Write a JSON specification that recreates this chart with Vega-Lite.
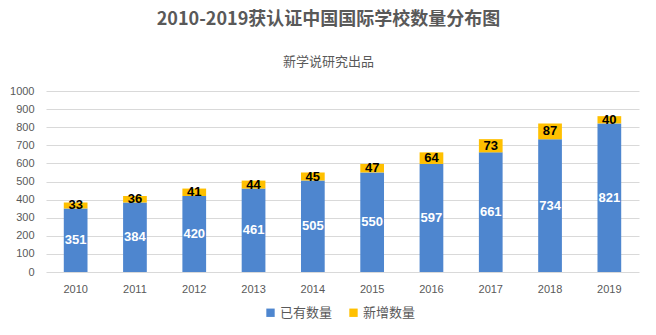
{
  "$schema": "https://vega.github.io/schema/vega-lite/v6.json",
  "width": 593,
  "height": 181,
  "autosize": "none",
  "padding": {"left": 46, "top": 91, "right": 17, "bottom": 63},
  "background": "white",
  "config": {
    "font": "Noto Sans CJK SC",
    "view": {"stroke": null},
    "axisY": {
      "labelOverlap": false,
      "domain": false,
      "ticks": false,
      "labelPadding": 12,
      "labelFontSize": 11,
      "labelColor": "#595959",
      "labelFont": "Liberation Sans",
      "gridColor": "#D9D9D9",
      "gridWidth": 1
    }
  },
  "title": {
    "text": "2010-2019获认证中国国际学校数量分布图",
    "subtitle": "新学说研究出品",
    "anchor": "middle",
    "dx": -14,
    "fontSize": 18,
    "fontWeight": "bold",
    "color": "#595959",
    "subtitleFontSize": 13,
    "subtitleColor": "#595959",
    "subtitlePadding": 27,
    "offset": 16
  },
  "data": {
    "values": [
      {"year": "2010", "type": "已有数量", "value": 351},
      {"year": "2010", "type": "新增数量", "value": 33},
      {"year": "2011", "type": "已有数量", "value": 384},
      {"year": "2011", "type": "新增数量", "value": 36},
      {"year": "2012", "type": "已有数量", "value": 420},
      {"year": "2012", "type": "新增数量", "value": 41},
      {"year": "2013", "type": "已有数量", "value": 461},
      {"year": "2013", "type": "新增数量", "value": 44},
      {"year": "2014", "type": "已有数量", "value": 505},
      {"year": "2014", "type": "新增数量", "value": 45},
      {"year": "2015", "type": "已有数量", "value": 550},
      {"year": "2015", "type": "新增数量", "value": 47},
      {"year": "2016", "type": "已有数量", "value": 597},
      {"year": "2016", "type": "新增数量", "value": 64},
      {"year": "2017", "type": "已有数量", "value": 661},
      {"year": "2017", "type": "新增数量", "value": 73},
      {"year": "2018", "type": "已有数量", "value": 734},
      {"year": "2018", "type": "新增数量", "value": 87},
      {"year": "2019", "type": "已有数量", "value": 821},
      {"year": "2019", "type": "新增数量", "value": 40}
    ]
  },
  "transform": [
    {"stack": "value", "groupby": ["year"], "sort": [{"field": "type", "order": "ascending"}], "as": ["v0", "v1"]},
    {"calculate": "(datum.v0 + datum.v1) / 2", "as": "mid"}
  ],
  "encoding": {
    "x": {
      "field": "year",
      "type": "ordinal",
      "scale": {"paddingInner": 0.6, "paddingOuter": 0.3},
      "axis": {
        "title": null,
        "labelAngle": 0,
        "domain": false,
        "ticks": false,
        "labelPadding": 11,
        "labelFontSize": 11,
        "labelColor": "#595959",
        "labelFont": "Liberation Sans"
      }
    }
  },
  "layer": [
    {
      "mark": {"type": "bar"},
      "encoding": {
        "y": {
          "field": "v1",
          "type": "quantitative",
          "scale": {"domain": [0, 1000], "nice": false},
          "axis": {"title": null, "values": [0, 100, 200, 300, 400, 500, 600, 700, 800, 900, 1000], "format": "d"}
        },
        "y2": {"field": "v0"},
        "color": {
          "field": "type",
          "type": "nominal",
          "scale": {"domain": ["已有数量", "新增数量"], "range": ["#4E86CF", "#FFC000"]},
          "legend": {
            "title": null,
            "orient": "none",
            "direction": "horizontal",
            "legendX": 218,
            "legendY": 215,
            "symbolType": "square",
            "symbolSize": 70,
            "symbolStrokeWidth": 0,
            "labelFontSize": 13,
            "labelColor": "#595959",
            "columnPadding": 14,
            "labelOffset": 3
          }
        }
      }
    },
    {
      "mark": {"type": "text", "fontWeight": "bold", "fontSize": 13, "baseline": "middle", "font": "Liberation Sans"},
      "encoding": {
        "y": {"field": "mid", "type": "quantitative", "axis": {"title": null, "values": [0, 100, 200, 300, 400, 500, 600, 700, 800, 900, 1000], "format": "d"}},
        "text": {"field": "value", "type": "quantitative"},
        "color": {
          "condition": {"test": "datum.type === '已有数量'", "value": "white"},
          "value": "black"
        }
      }
    }
  ]
}
